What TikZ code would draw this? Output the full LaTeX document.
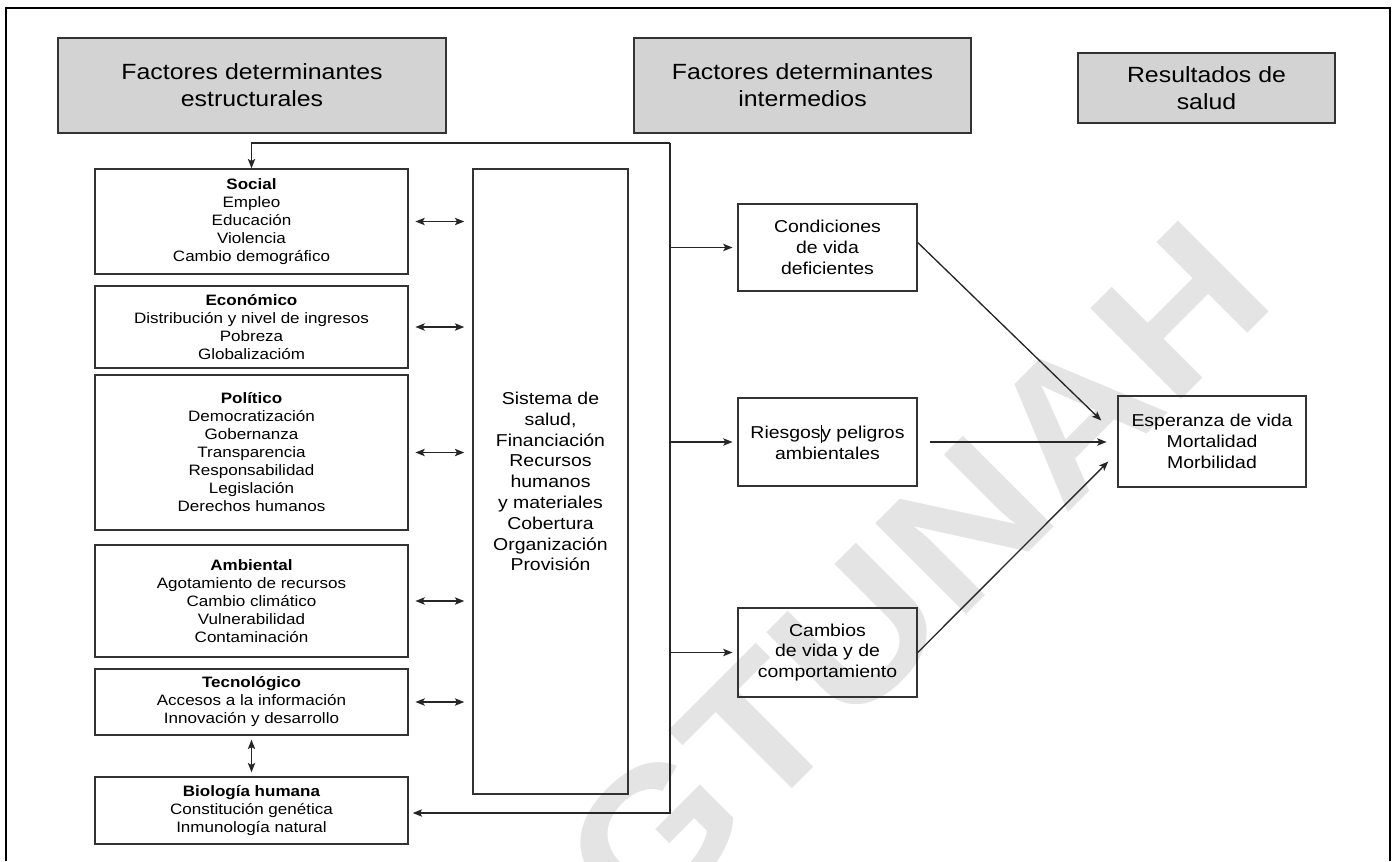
\documentclass[tikz,border=0pt]{standalone}
\usepackage{fontspec}
\setmainfont{Liberation Sans}[FakeStretch=1.13]
\usetikzlibrary{arrows.meta,calc}
\definecolor{hdrfill}{HTML}{D3D3D3}
\definecolor{boxline}{HTML}{333333}
\definecolor{wmark}{HTML}{E4E4E4}
\tikzset{
  hdr/.style={draw=boxline, line width=1.4pt, fill=hdrfill, align=center, inner sep=0pt,
    font=\fontsize{16.5}{20.25}\selectfont},
  lbox/.style={draw=boxline, line width=1.1pt, align=center, inner sep=0pt,
    minimum width=234.75pt, font=\fontsize{11.3}{13.5}\selectfont},
  rbox/.style={draw=boxline, line width=1.1pt, align=center, inner sep=0pt,
    font=\fontsize{12.9}{15.6}\selectfont},
  conn/.style={draw=black!85, line width=1pt},
  arr/.style={conn, -{Stealth[length=7pt,width=5.5pt,inset=1.5pt]}},
  darr/.style={conn, {Stealth[length=7pt,width=5.5pt,inset=1.5pt]}-{Stealth[length=7pt,width=5.5pt,inset=1.5pt]}},
  wmtext/.style={text=wmark, inner sep=0pt, font=\fontsize{140}{140}\selectfont\bfseries}
}
\begin{document}
\begin{tikzpicture}[x=0.75pt, y=-0.75pt]
\useasboundingbox (0,0) rectangle (1392,861);
% watermark
\node[wmtext, rotate=45] (wm) at (915,575) {GTUNAH};
% frame
\coordinate (fbl) at (6,861);
\coordinate (ftl) at (6,8);
\coordinate (ftr) at (1390,8);
\coordinate (fbr) at (1390,861);
\draw[line width=2pt, black] (fbl) -- (ftl) -- (ftr) -- (fbr);
% headers
\node[hdr, minimum width=291pt, minimum height=71.25pt] (h1) at (252,85.5) {Factores determinantes\\estructurales};
\node[hdr, minimum width=252.75pt, minimum height=71.25pt] (h2) at (802.5,85.5) {Factores determinantes\\intermedios};
\node[hdr, minimum width=192.75pt, minimum height=52.5pt] (h3) at (1206.5,88) {Resultados de\\salud};
% left boxes
\node[lbox, minimum height=78.75pt] (soc) at (251.5,221.5) {\textbf{Social}\\Empleo\\Educación\\Violencia\\Cambio demográfico};
\node[lbox, minimum height=61.5pt] (eco) at (251.5,327) {\textbf{Económico}\\Distribución y nivel de ingresos\\Pobreza\\Globalizacióm};
\node[lbox, minimum height=116.25pt] (pol) at (251.5,452.5) {\textbf{Político}\\Democratización\\Gobernanza\\Transparencia\\Responsabilidad\\Legislación\\Derechos humanos};
\node[lbox, minimum height=84pt] (amb) at (251.5,601) {\textbf{Ambiental}\\Agotamiento de recursos\\Cambio climático\\Vulnerabilidad\\Contaminación};
\node[lbox, minimum height=49.5pt] (tec) at (251.5,702) {\textbf{Tecnológico}\\Accesos a la información\\Innovación y desarrollo};
\node[lbox, minimum height=50.25pt] (bio) at (251.5,810.5) {\textbf{Biología humana}\\Constitución genética\\Inmunología natural};
% central box
\node[rbox, minimum width=116.25pt, minimum height=468.75pt] (sis) at (550.5,481.5) {Sistema de\\salud,\\Financiación\\Recursos\\humanos\\y materiales\\Cobertura\\Organización\\Provisión};
% intermediate boxes
\node[rbox, minimum width=134.25pt, minimum height=65.25pt] (cond) at (827.5,247.5) {Condiciones\\de vida\\deficientes};
\node[rbox, minimum width=134.25pt, minimum height=66pt] (ries) at (827.5,442) {Riesgos\rule[-0.25em]{0.5pt}{1.05em}y peligros\\ambientales};
\node[rbox, minimum width=134.25pt, minimum height=66.75pt] (camb) at (827.5,652.5) {Cambios\\de vida y de\\comportamiento};
% outcome box
\node[rbox, minimum width=141pt, minimum height=68.25pt] (esp) at (1212,441.5) {Esperanza de vida\\Mortalidad\\Morbilidad};
% double arrows left <-> central
\foreach \b in {soc,eco,pol,amb,tec}{
  \draw[darr, shorten <=5pt, shorten >=6pt] (\b.east) -- (\b.east -| sis.west);
}
\draw[darr, shorten <=3pt, shorten >=3pt] (tec.south) -- (bio.north);
% feedback loop
\coordinate (ltr) at (670,143);
\coordinate (lbr) at (670,813);
\draw[arr] (ltr) -| (soc.north);
\draw[arr, shorten >=3pt] (ltr) -- (lbr) -- (lbr -| bio.east);
% to intermediate
\draw[arr, shorten >=3.5pt] (cond.west -| ltr) -- (cond.west);
\draw[arr, shorten >=3.5pt] (ries.west -| ltr) -- (ries.west);
\draw[arr, shorten >=3.5pt] (camb.west -| ltr) -- (camb.west);
% to outcomes
\draw[arr] ($(cond.east)+(0,-5)$) -- ($(esp.west)+(-16,-21)$);
\draw[arr, shorten <=9pt, shorten >=8pt] (ries.east) -- (ries.east -| esp.west);
\draw[arr] (camb.east) -- ($(esp.west)+(-9,20)$);
\end{tikzpicture}
\end{document}
